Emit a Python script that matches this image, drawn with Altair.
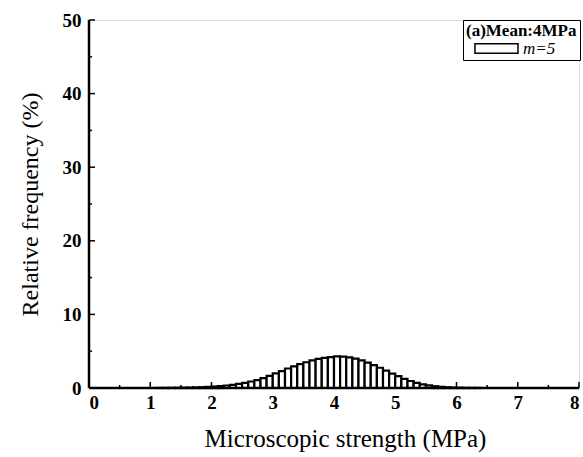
import altair as alt
import pandas as pd

# Histogram of microscopic strength (bin width 0.1 MPa)
bin_start = [round(1.0 + 0.1 * i, 1) for i in range(55)]
freq = [
    0.00, 0.01, 0.01, 0.02, 0.03, 0.04, 0.06, 0.08, 0.11, 0.15,
    0.20, 0.26, 0.34, 0.43, 0.55, 0.70, 0.88, 1.08, 1.35, 1.65,
    2.00, 2.30, 2.65, 2.95, 3.25, 3.50, 3.75, 3.95, 4.10, 4.20,
    4.30, 4.25, 4.15, 4.00, 3.75, 3.45, 3.10, 2.75, 2.35, 1.95,
    1.60, 1.25, 0.95, 0.70, 0.50, 0.35, 0.24, 0.16, 0.10, 0.06,
    0.04, 0.02, 0.01, 0.01, 0.00,
]
series_label = ["m=5"]
legend_title = "(a)Mean:4MPa"

x_major = [0, 1, 2, 3, 4, 5, 6, 7, 8]
x_minor = [0.5, 1.5, 2.5, 3.5, 4.5, 5.5, 6.5, 7.5]
y_major = [0, 10, 20, 30, 40, 50]
y_minor = [5, 15, 25, 35, 45]

FONT = "Liberation Serif"
W, H = 490, 368

bars = pd.DataFrame({
    "start": bin_start,
    "end": [round(s + 0.1, 2) for s in bin_start],
    "base": [0.0] * len(bin_start),
    "freq": freq,
    "series": series_label * len(bin_start),
})

xscale = alt.Scale(domain=[0, 8], nice=False, zero=False)
yscale = alt.Scale(domain=[0, 50], nice=False)

x_axis = alt.Axis(
    values=x_major, format="d", ticks=False, grid=False, domain=False,
    labelFont=FONT, labelFontSize=19, labelFontWeight="bold", labelColor="black",
    labelPadding=5, title="Microscopic strength (MPa)", titleFont=FONT,
    titleFontSize=25, titleFontWeight="normal", titleColor="black",
    titleX=256, titleY=50, titleBaseline="middle",
)
y_axis = alt.Axis(
    values=y_major, format="d", ticks=False, grid=False, domain=False,
    labelFont=FONT, labelFontSize=19, labelFontWeight="bold", labelColor="black",
    labelPadding=8, title="Relative frequency (%)", titleFont=FONT,
    titleFontSize=24, titleFontWeight="normal", titleColor="black",
    titleX=-59, titleY=H / 2, titleBaseline="middle",
)

hist = alt.Chart(bars).mark_bar(
    fill="white", stroke="black", strokeWidth=2.2
).encode(
    x=alt.X("start:Q", scale=xscale, axis=x_axis),
    x2="end:Q",
    y=alt.Y("freq:Q", scale=yscale, axis=y_axis),
    y2="base:Q",
    fill=alt.Fill(
        "series:N",
        scale=alt.Scale(range=["white"]),
        legend=alt.Legend(
            title=legend_title, orient="none", legendX=374, legendY=0,
            titleFont=FONT, titleFontSize=17, titleFontWeight="bold",
            titleColor="black", titlePadding=2,
            labelFont=FONT, labelFontSize=17, labelFontStyle="italic",
            labelColor="black", labelOffset=4,
            symbolType="M-1,-0.22H1V0.22H-1Z", symbolSize=1850,
            symbolStrokeColor="black", symbolStrokeWidth=1.5,
            symbolFillColor="white", symbolOffset=8,
            clipHeight=13,
            fillColor="white", strokeColor="black",
            padding=3, offset=0,
        ),
    ),
)

def xticks(vals, length):
    df = pd.DataFrame({"v": vals})
    return alt.Chart(df).mark_rule(color="black", strokeWidth=1.5).encode(
        x=alt.X("v:Q", scale=xscale),
        y=alt.value(H),
        y2=alt.value(H - length),
    )

def yticks(vals, length):
    df = pd.DataFrame({"v": vals})
    return alt.Chart(df).mark_rule(color="black", strokeWidth=1.5).encode(
        y=alt.Y("v:Q", scale=yscale),
        x=alt.value(0),
        x2=alt.value(length),
    )

# Heavier left and bottom spines
left_spine = alt.Chart(pd.DataFrame({"v": [0]})).mark_rule(
    color="black", strokeWidth=2.5
).encode(x=alt.value(0), y=alt.value(0), y2=alt.value(H))
bottom_spine = alt.Chart(pd.DataFrame({"v": [0]})).mark_rule(
    color="black", strokeWidth=2.5
).encode(x=alt.value(0), x2=alt.value(W), y=alt.value(H))

chart = alt.layer(
    hist,
    xticks(x_major, 6), xticks(x_minor, 3),
    yticks(y_major, 6), yticks(y_minor, 3),
    left_spine, bottom_spine,
).properties(
    width=W, height=H,
    autosize=alt.AutoSizeParams(type="none"),
    padding={"left": 89, "top": 20, "right": 4, "bottom": 69},
).configure_view(
    stroke="black", strokeWidth=1.5
).configure(background="white")

chart.save("out.html", embed_options={"renderer": "svg", "actions": False})
